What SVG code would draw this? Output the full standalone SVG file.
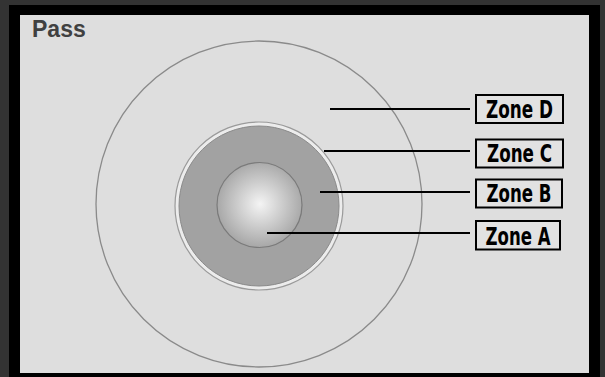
<svg xmlns="http://www.w3.org/2000/svg" width="605" height="377" viewBox="0 0 605 377">
<style>
.lbl{font-family:"DejaVu Sans Condensed","DejaVu Sans",sans-serif;font-weight:bold;font-stretch:condensed;font-size:24px;fill:#000}
.box{fill:#e2e2e2;stroke:#000;stroke-width:2}
.lead{stroke:#000;stroke-width:2;fill:none}
</style>
<defs>
<radialGradient id="gA" cx="260" cy="204" r="44" gradientUnits="userSpaceOnUse">
<stop offset="0" stop-color="#f4f4f4"/>
<stop offset="1" stop-color="#a6a6a6"/>
</radialGradient>
</defs>
<rect x="0" y="0" width="605" height="377" fill="#333"/>
<rect x="9" y="5" width="591" height="372" fill="#000"/>
<rect x="20" y="15" width="569" height="358" fill="#dedede"/>
<text x="32" y="37" font-family="Liberation Sans, Arial, sans-serif" font-weight="bold" font-size="23" fill="#404040">Pass</text>
<g id="zoneD"><circle cx="259" cy="204" r="163" fill="none" stroke="#8a8a8a" stroke-width="1.3"/></g>
<g id="zoneC"><circle cx="259" cy="206" r="84" fill="#ececec" stroke="#9a9a9a" stroke-width="1.2"/></g>
<g id="zoneB"><circle cx="259" cy="206" r="80" fill="#a2a2a2" stroke="#8a8a8a" stroke-width="1"/></g>
<g id="zoneA"><circle cx="259.5" cy="205" r="42.5" fill="url(#gA)" stroke="#7a7a7a" stroke-width="1.2"/></g>
<g id="connectors">
<line class="lead" x1="330" y1="109" x2="470" y2="109"/>
<line class="lead" x1="324" y1="151" x2="470" y2="151"/>
<line class="lead" x1="320" y1="192" x2="470" y2="192"/>
<line class="lead" x1="267" y1="233" x2="470" y2="233"/>
</g>
<g id="labelD"><rect class="box" x="476" y="95" width="87" height="28"/><text class="lbl" x="519.5" y="117.5" text-anchor="middle" textLength="67" lengthAdjust="spacingAndGlyphs">Zone D</text></g>
<g id="labelC"><rect class="box" x="476" y="139.5" width="87" height="28"/><text class="lbl" x="519.5" y="162" text-anchor="middle" textLength="65" lengthAdjust="spacingAndGlyphs">Zone C</text></g>
<g id="labelB"><rect class="box" x="476" y="179.5" width="86" height="28"/><text class="lbl" x="519" y="202" text-anchor="middle" textLength="65" lengthAdjust="spacingAndGlyphs">Zone B</text></g>
<g id="labelA"><rect class="box" x="476" y="221" width="84" height="28.5"/><text class="lbl" x="518" y="244.5" text-anchor="middle" textLength="65" lengthAdjust="spacingAndGlyphs">Zone A</text></g>
</svg>
